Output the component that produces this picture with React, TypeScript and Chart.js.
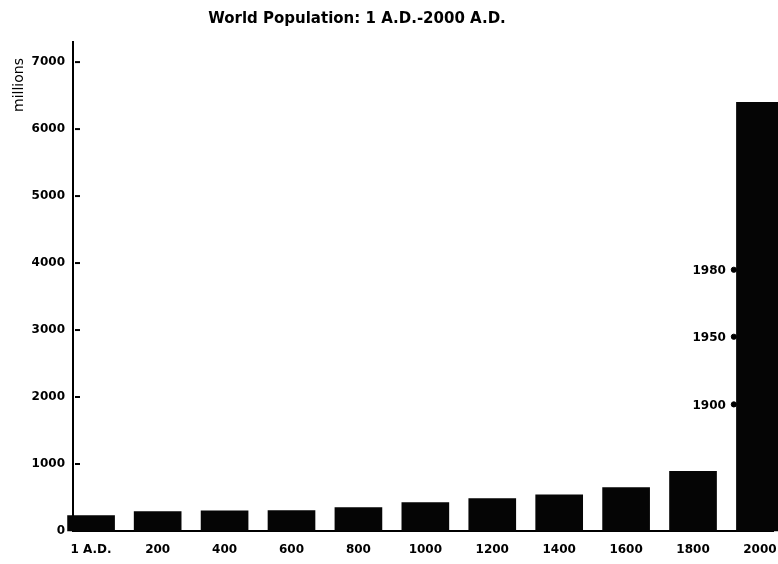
import React, { useEffect, useRef } from "react";
import { Chart, registerables } from "chart.js";

Chart.register(...registerables);

const categories = ["1 A.D.", "200", "400", "600", "800", "1000", "1200", "1400", "1600", "1800", "2000"];
const years = [1, 200, 400, 600, 800, 1000, 1200, 1400, 1600, 1800, 2000];
const population = [230, 290, 300, 305, 350, 425, 485, 540, 650, 890, 6400];
const yTicks = [0, 1000, 2000, 3000, 4000, 5000, 6000, 7000];
const markerLabels = ["1980", "1950", "1900"];
const markerValues = [3900, 2900, 1890];
const markerYear = 1922;

const FONT = "'DejaVu Sans', sans-serif";

export default function App() {
  const ref = useRef<HTMLCanvasElement | null>(null);
  useEffect(() => {
    if (!ref.current) return;
    const decor = {
      id: "decor",
      afterDraw(chart: any) {
        const ctx = chart.ctx;
        const y = chart.scales.y;
        const area = chart.chartArea;
        ctx.save();
        ctx.strokeStyle = "#000";
        ctx.lineWidth = 2;
        yTicks.forEach((v) => {
          const py = y.getPixelForValue(v);
          if (v === 0) return;
          ctx.beginPath();
          ctx.moveTo(area.left + 2, py);
          ctx.lineTo(area.left + 7, py);
          ctx.stroke();
        });
        ctx.fillStyle = "#000";
        ctx.font = `bold 15px ${FONT}`;
        ctx.textAlign = "center";
        ctx.textBaseline = "middle";
        ctx.fillText("World Population: 1 A.D.-2000 A.D.", 357, 19);
        ctx.save();
        ctx.translate(19, 85);
        ctx.rotate(-Math.PI / 2);
        ctx.font = `14px ${FONT}`;
        ctx.fillText("millions", 0, 0);
        ctx.restore();
        const meta = chart.getDatasetMeta(1);
        ctx.font = `bold 12px ${FONT}`;
        ctx.textAlign = "right";
        meta.data.forEach((pt: any, i: number) => {
          ctx.fillText(markerLabels[i], pt.x - 8, pt.y + 1);
        });
        ctx.restore();
      },
    };
    const chart = new Chart(ref.current, {
      type: "bar",
      data: {
        datasets: [
          {
            type: "bar",
            data: years.map((x, i) => ({ x, y: population[i] })),
            backgroundColor: "#050505",
            borderWidth: 0,
            barThickness: 47,
            clip: false,
            order: 2,
          } as any,
          {
            type: "scatter",
            data: markerValues.map((v) => ({ x: markerYear, y: v })),
            backgroundColor: "#000",
            borderColor: "#000",
            pointRadius: 2.6,
            clip: false,
            order: 1,
          } as any,
        ],
      },
      plugins: [decor],
      options: {
        responsive: false,
        animation: false,
        layout: { padding: { top: 42, right: 0, left: 0, bottom: 0 } },
        plugins: { legend: { display: false }, tooltip: { enabled: false }, title: { display: false } },
        scales: {
          x: {
            type: "linear",
            offset: false,
            min: -53,
            max: 2039,
            grid: { display: false, drawTicks: false },
            border: { display: true, color: "#000", width: 2 },
            afterBuildTicks: (s: any) => {
              s.ticks = years.map((v) => ({ value: v }));
            },
            afterFit: (s: any) => {
              s.height = 33;
              s.paddingLeft = 0;
              s.paddingRight = 0;
            },
            ticks: {
              autoSkip: false,
              maxRotation: 0,
              padding: 12,
              color: "#000",
              font: { family: FONT, weight: "bold", size: 12 },
              callback: (v: any) => {
                const i = years.indexOf(Number(v));
                return i >= 0 ? categories[i] : "";
              },
            },
          },
          y: {
            type: "linear",
            min: 0,
            max: 7300,
            grid: { display: false, drawTicks: false },
            border: { display: true, color: "#000", width: 2 },
            afterBuildTicks: (s: any) => {
              s.ticks = yTicks.map((v) => ({ value: v }));
            },
            afterFit: (s: any) => {
              s.width = 73;
              s.paddingTop = 0;
              s.paddingBottom = 0;
            },
            ticks: {
              padding: 8,
              color: "#000",
              font: { family: FONT, weight: "bold", size: 12 },
              callback: (v: any) => String(v),
            },
          },
        },
      } as any,
    });
    return () => chart.destroy();
  }, []);
  return (
    <div style={{ position: "absolute", left: 0, top: 0, width: 778, height: 564, background: "#fff" }}>
      <canvas ref={ref} width={778} height={564} />
    </div>
  );
}
